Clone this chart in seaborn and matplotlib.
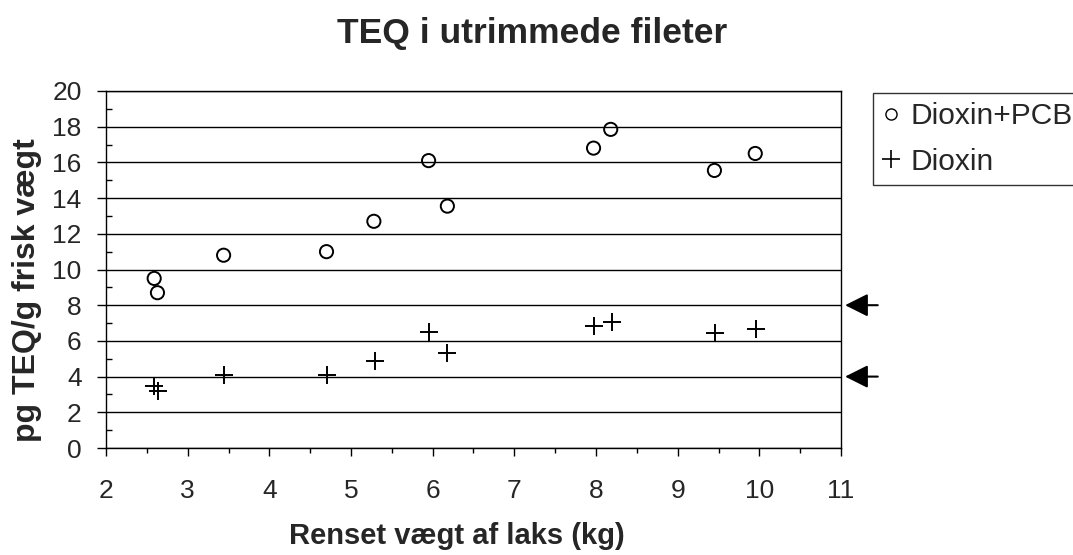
import matplotlib
matplotlib.use('Agg')
import matplotlib.pyplot as plt
import seaborn as sns
from matplotlib.lines import Line2D
from matplotlib.ticker import MultipleLocator

sns.set_style('white')
plt.rcParams['font.family'] = ['Liberation Sans', 'DejaVu Sans']

# renset vægt (kg) for hver fisk
vaegt_pcb = [2.59, 2.63, 3.44, 4.70, 5.28, 5.95, 6.18, 7.97, 8.18, 9.45, 9.95]
teq_pcb = [9.5, 8.7, 10.8, 11.0, 12.7, 16.1, 13.55, 16.8, 17.85, 15.55, 16.5]

vaegt_dioxin = [2.59, 2.64, 3.45, 4.71, 5.29, 5.96, 6.18, 7.97, 8.20, 9.46, 9.96]
teq_dioxin = [3.45, 3.2, 4.1, 4.1, 4.85, 6.5, 5.3, 6.85, 7.05, 6.45, 6.65]

# grænseværdier markeret med pile
graenser = [8, 4]

fig = plt.figure(figsize=(10.73, 5.55), dpi=100)
ax = fig.add_axes([106 / 1073, 1 - 448 / 555, 735 / 1073, 357 / 555])

sns.scatterplot(x=vaegt_pcb, y=teq_pcb, marker='o', s=90, color='black',
                edgecolor='black', linewidth=1.4, ax=ax, zorder=3)
ax.collections[-1].set_facecolor('none')
sns.scatterplot(x=vaegt_dioxin, y=teq_dioxin, marker='+', s=150, color='black',
                linewidth=1.4, ax=ax, zorder=3)

ax.set_xlim(2, 11)
ax.set_ylim(0, 20)
ax.xaxis.set_major_locator(MultipleLocator(1))
ax.xaxis.set_minor_locator(MultipleLocator(0.5))
ax.yaxis.set_major_locator(MultipleLocator(2))
ax.yaxis.set_minor_locator(MultipleLocator(1))

ax.grid(axis='y', which='major', color='black', linewidth=1)
for s in ax.spines.values():
    s.set_color('black')
    s.set_linewidth(1)

ax.tick_params(axis='x', which='major', direction='out', length=6, width=1,
               color='black', pad=16, labelsize=19, bottom=True)
ax.tick_params(axis='x', which='minor', direction='out', length=3.6, width=1,
               color='black', bottom=True)
ax.tick_params(axis='y', which='major', direction='out', length=6.5, width=1,
               color='black', pad=11, labelsize=19, left=True)
ax.tick_params(axis='y', which='minor', direction='in', length=4, width=1,
               color='black', left=True)

ax.set_xlabel('Renset vægt af laks (kg)', fontsize=21, fontweight='bold')
ax.xaxis.label.set_va('baseline')
ax.xaxis.set_label_coords((457 - 106) / 735, (448 - 544) / 357)
ax.set_ylabel('pg TEQ/g frisk vægt', fontsize=23, fontweight='bold')
ax.yaxis.label.set_va('baseline')
ax.yaxis.set_label_coords((35 - 106) / 735, (448 - 290) / 357)

fig.text(532 / 1073, 1 - 43 / 555, 'TEQ i utrimmede fileter', ha='center',
         va='baseline', fontsize=25.5, fontweight='bold')

for g in graenser:
    ax.annotate('', xy=(11.05, g), xytext=(11.45, g),
                arrowprops=dict(arrowstyle='-|>,head_length=1.0,head_width=0.5',
                                mutation_scale=14, lw=1.5, color='black',
                                shrinkA=0, shrinkB=0),
                annotation_clip=False)

handles = [
    Line2D([], [], linestyle='none', marker='o', markersize=8,
           markerfacecolor='none', markeredgecolor='black', markeredgewidth=1),
    Line2D([], [], linestyle='none', marker='+', markersize=13,
           color='black', markeredgewidth=1.2),
]
leg = fig.legend(handles, ['Dioxin+PCB', 'Dioxin'], loc='upper left',
                 bbox_to_anchor=(873 / 1073, 1 - 93 / 555), fontsize=21.5,
                 frameon=True, fancybox=False, edgecolor='black',
                 handlelength=0.6, handletextpad=0.35, borderpad=0.3,
                 labelspacing=0.6, borderaxespad=0)
leg.get_frame().set_linewidth(1)

fig.savefig('out.png', dpi=100)
